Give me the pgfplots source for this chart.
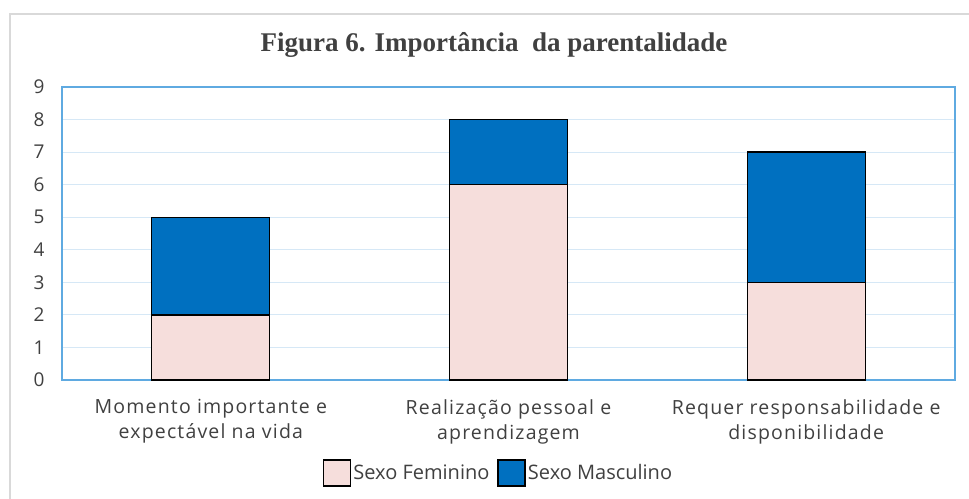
\documentclass[border=0pt]{standalone}
\usepackage{fontspec}
\setmainfont{Open Sans}
\newfontfamily\spaced[LetterSpace=6]{Open Sans}
\newfontfamily\titlefont{Liberation Serif}
\usepackage{pgfplots}
\pgfplotsset{compat=1.18}
\definecolor{fem}{RGB}{246,222,220}
\definecolor{masc}{RGB}{0,112,192}
\definecolor{txt}{RGB}{64,64,64}
\definecolor{gridc}{RGB}{214,232,246}
\definecolor{borderc}{RGB}{95,170,225}
\definecolor{framec}{RGB}{217,217,217}
\begin{document}
\begin{tikzpicture}[x=1pt,y=1pt]
\useasboundingbox (0,0) rectangle (969,498);
\draw[framec,line width=1.5pt] (10,-2) -- (10,484) -- (971,484);
\node[txt] at (494,453) {\titlefont\bfseries\fontsize{27}{30}\selectfont Figura 6. Importância\ \ da parentalidade};
\begin{axis}[
  at={(62pt,118pt)}, anchor=south west,
  width=893pt, height=293pt, scale only axis,
  ybar stacked, bar width=118pt,
  xmin=-0.5, xmax=2.5, ymin=0, ymax=9,
  xtick={0,1,2},
  xticklabels={{Momento importante e\\expectável na vida},{Realização pessoal e\\aprendizagem},{Requer responsabilidade e\\disponibilidade}},
  ytick={0,1,...,9},
  major tick length=0pt,
  ymajorgrids, grid style={gridc, line width=1pt},
  axis line style={borderc, line width=1.2pt},
  /pgf/number format/assume math mode=true,
  tick label style={txt, font=\fontsize{19}{24}\selectfont},
  xticklabel style={align=center, yshift=-16pt, font=\spaced\fontsize{19.5}{25}\selectfont},
  yticklabel style={xshift=-14pt},
  legend style={at={(0.4888,-0.317)}, anchor=center, draw=none, legend columns=2, font=\fontsize{20}{22}\selectfont, text=txt,
    /tikz/every even column/.append style={column sep=6pt}},
  legend image code/.code={\draw[#1,draw=black,line width=1.5pt] (0pt,-13pt) rectangle (27pt,13pt);},
  clip=false,
]
\addplot[fill=fem, draw=black, line width=1.3pt] coordinates {(0,2) (1,6) (2,3)};
\addplot[fill=masc, draw=black, line width=1.3pt] coordinates {(0,3) (1,2) (2,4)};
\legend{Sexo Feminino, Sexo Masculino}
\end{axis}
\end{tikzpicture}
\end{document}
